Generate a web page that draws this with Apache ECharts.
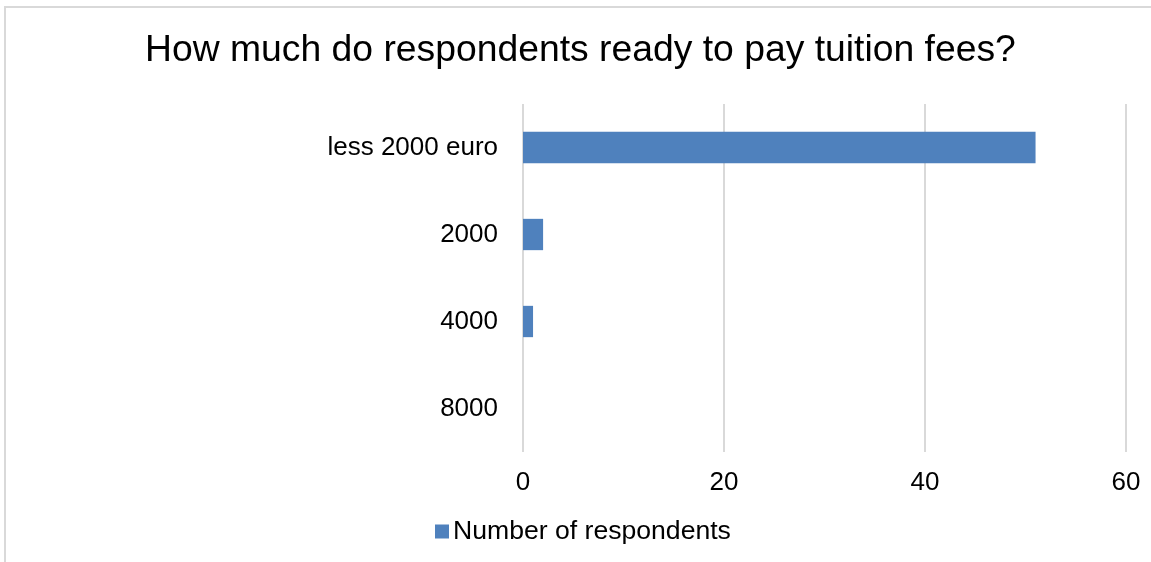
<!DOCTYPE html>
<html>
<head>
<meta charset="utf-8">
<script src="https://cdn.jsdelivr.net/npm/echarts@6/dist/echarts.min.js"></script>
<style>
  html, body { margin: 0; padding: 0; background: #fff; }
  #frame { position: absolute; left: 4px; top: 6px; width: 1200px; height: 600px; border: 2px solid #d9d9d9; box-sizing: border-box; }
  #main { position: absolute; left: 0; top: 0; width: 1151px; height: 562px; }
</style>
</head>
<body>
<div id="frame"></div>
<div id="main"></div>
<script>
const categories = ['less 2000 euro', '2000', '4000', '8000']
const respondents = [51, 2, 1, 0]
const seriesName = 'Number of respondents'

const myChart = echarts.init(document.getElementById('main'))
const option = {
  backgroundColor: 'transparent',
  textStyle: { fontFamily: 'Liberation Sans, Arial, sans-serif' },
  title: {
    text: 'How much do respondents ready to pay tuition fees?',
    left: 140,
    top: 27,
    textStyle: {
      fontFamily: 'Liberation Sans, Arial, sans-serif',
      fontSize: 37.3,
      fontWeight: 'normal',
      color: '#000'
    }
  },
  legend: {
    data: [seriesName],
    left: 430,
    top: 513,
    icon: 'rect',
    itemWidth: 14,
    itemHeight: 14,
    itemGap: 6,
    textStyle: { fontSize: 26.6, color: '#000', padding: [0, 0, 0, -1] }
  },
  grid: {
    left: 523,
    right: 25,
    top: 104,
    bottom: 110,
    containLabel: false
  },
  xAxis: {
    type: 'value',
    min: 0,
    max: 60,
    interval: 20,
    axisLine: { show: false },
    axisTick: { show: false },
    axisLabel: { fontSize: 26, color: '#000', margin: 18 },
    splitLine: { lineStyle: { color: '#d9d9d9', width: 2 } }
  },
  yAxis: {
    type: 'category',
    inverse: true,
    data: categories,
    axisLine: { show: false },
    axisTick: { show: false },
    axisLabel: { fontSize: 26, color: '#000', margin: 25 }
  },
  series: [
    {
      name: seriesName,
      type: 'bar',
      data: respondents,
      barCategoryGap: '64%',
      itemStyle: { color: '#4f81bd' }
    }
  ]
}
myChart.setOption(option)
</script>
</body>
</html>
